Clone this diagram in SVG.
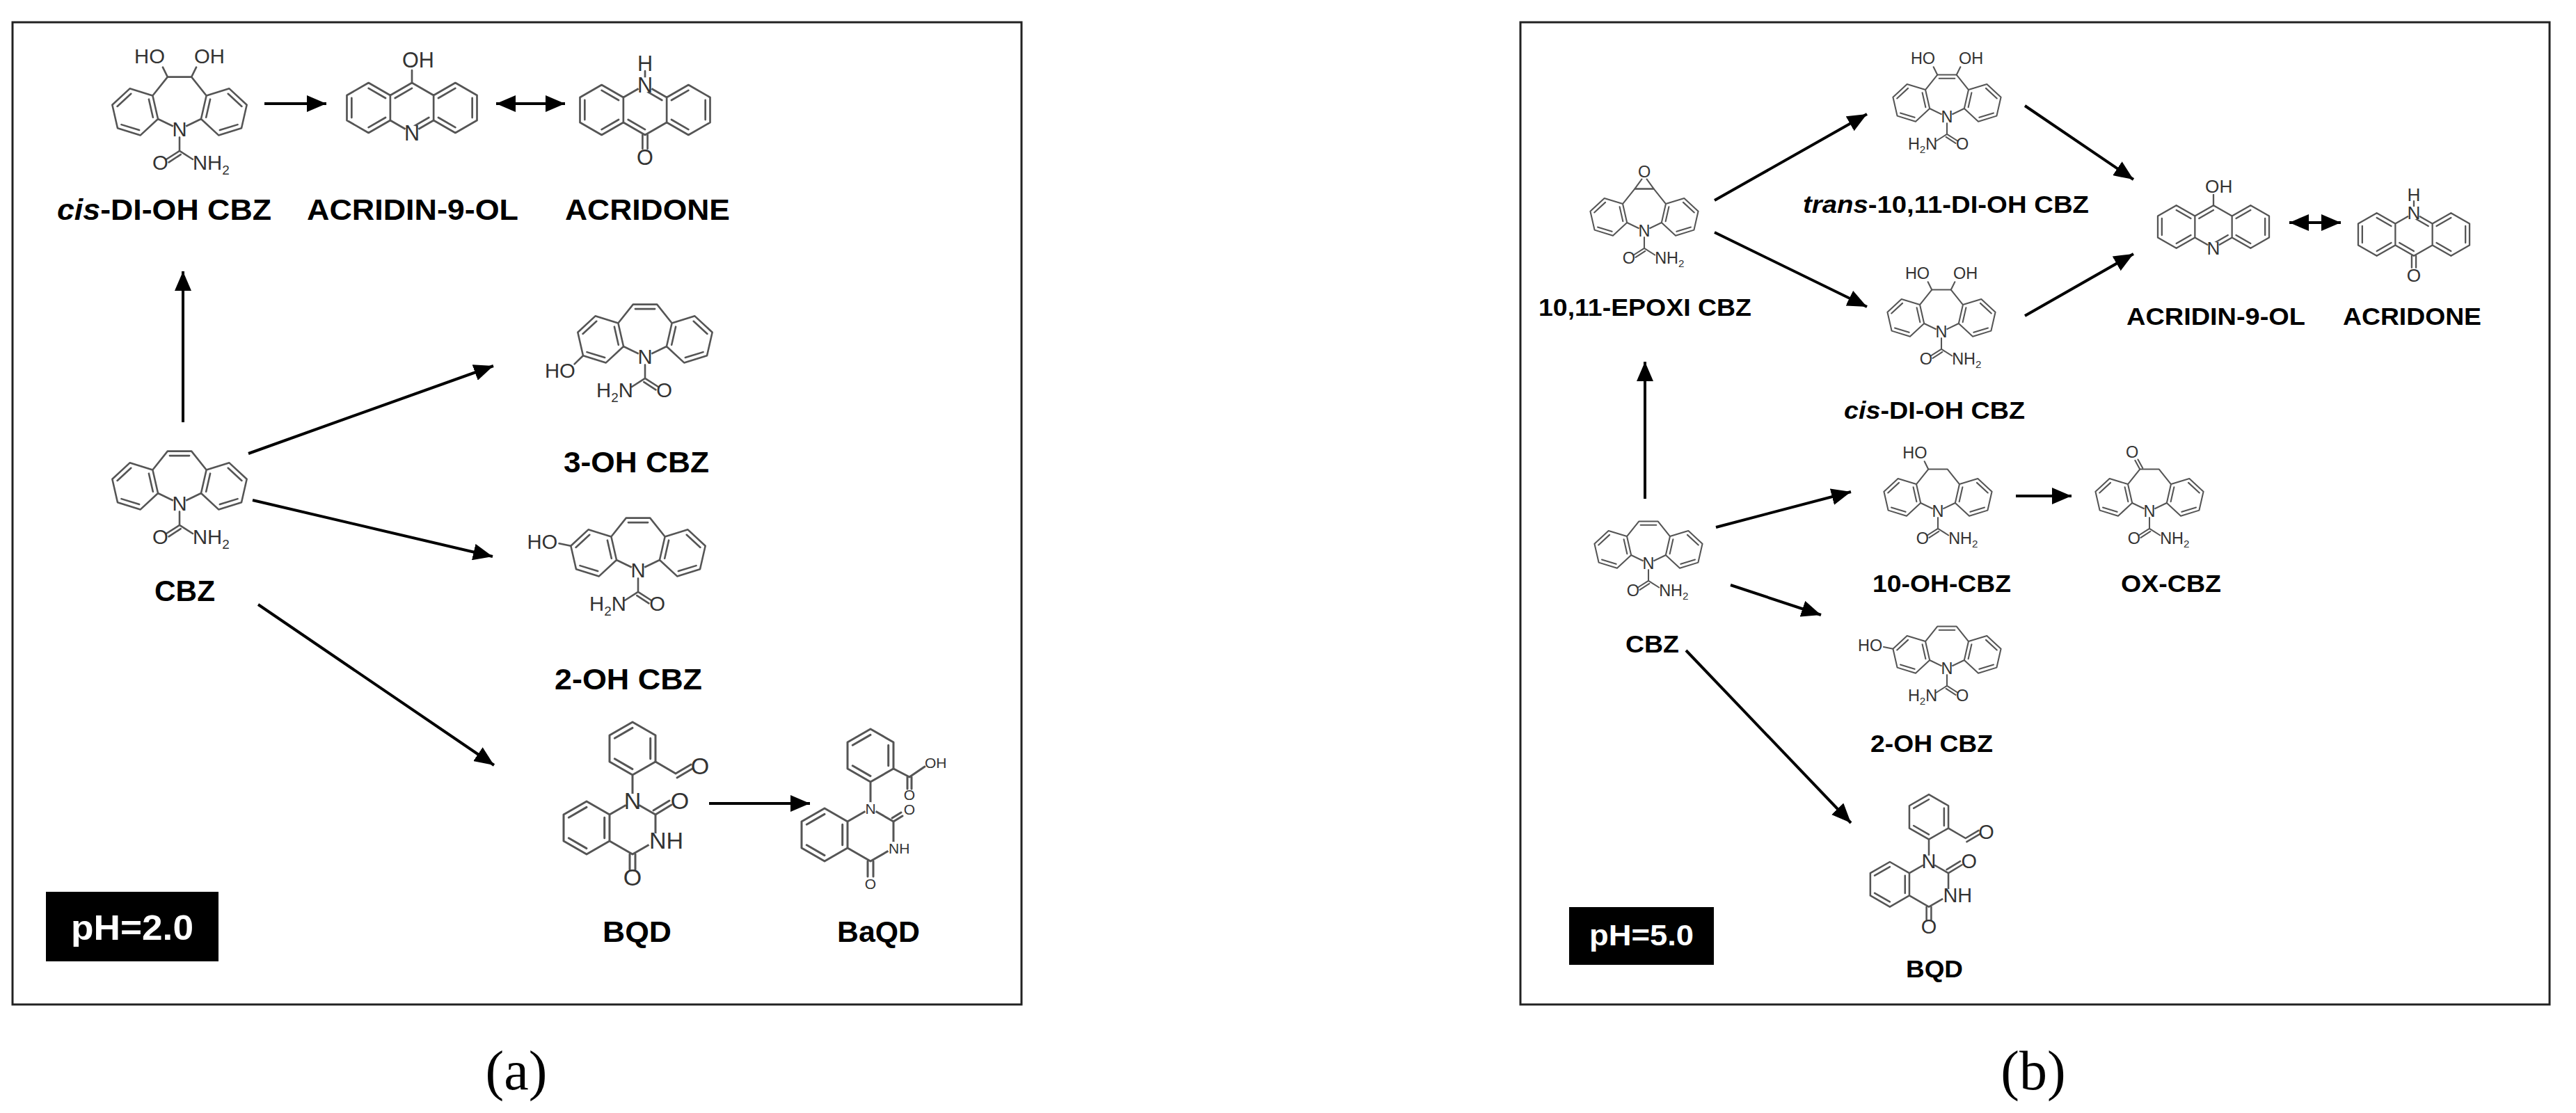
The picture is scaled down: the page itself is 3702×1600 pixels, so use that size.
<svg xmlns="http://www.w3.org/2000/svg" xmlns:xlink="http://www.w3.org/1999/xlink" width="3702" height="1600" viewBox="0 0 3702 1600">
<style>
.b{fill:none;stroke:#555;stroke-width:3;stroke-linecap:round;stroke-linejoin:round}
.t{font-family:"Liberation Sans",Arial,sans-serif;font-size:34px;fill:#333}
.ts{font-family:"Liberation Sans",Arial,sans-serif;font-size:21px;fill:#333}
.lab{font-family:"Liberation Sans",Arial,sans-serif;font-weight:bold;fill:#000}
.arr{stroke:#000;stroke-width:4;fill:none}
.frame{fill:none;stroke:#222;stroke-width:3}
.wc{fill:#fff;stroke:none}
</style>
<defs>
<marker id="ah" viewBox="0 0 7 6" refX="7" refY="3" markerWidth="7" markerHeight="6" orient="auto-start-reverse" markerUnits="strokeWidth"><path d="M0,0 L7,3 L0,6 Z" fill="#000"/></marker>
<g id="skel">
<path class="b" d="M0,0 L-36,-17.4 L-44.9,-56.4 L-20,-87.6 L20,-87.6 L44.9,-56.4 L36,-17.4 Z M-36,-17.4 L-65.3,9.8 L-103.5,-2 L-112.4,-41 L-83.1,-68.2 L-44.9,-56.4 M36,-17.4 L65.3,9.8 L103.5,-2 L112.4,-41 L83.1,-68.2 L44.9,-56.4 M-67.3,1.2 L-97.1,-8 M-104,-38.4 L-81.1,-59.6 M-51.3,-50.4 L-44.4,-20 M67.3,1.2 L97.1,-8 M104,-38.4 L81.1,-59.6 M51.3,-50.4 L44.4,-20"/>
<circle class="wc" cx="0" cy="0" r="12"/>
<text class="t" x="0" y="12" text-anchor="middle">N</text>
</g>
<path id="db" class="b" d="M-16.4,-80.1 L16.4,-80.1"/>
<g id="diol">
<path class="b" d="M-20,-87.6 L-28,-104 M20,-87.6 L28,-104"/>
<text class="t" x="-50" y="-110" text-anchor="middle">HO</text>
<text class="t" x="50" y="-110" text-anchor="middle">OH</text>
</g>
<g id="ureaA">
<path class="b" d="M0,13 L0,36 L-22,50 M2,42 L-18,55 M0,36 L22,50"/>
<text class="t" x="-32" y="68" text-anchor="middle">O</text>
<text class="t" x="22" y="68">NH<tspan font-size="22" dy="7">2</tspan></text>
</g>
<g id="ureaB">
<path class="b" d="M0,13 L0,36 L22,50 M-2,42 L18,55 M0,36 L-22,50"/>
<text class="t" x="32" y="68" text-anchor="middle">O</text>
<text class="t" x="-20" y="68" text-anchor="end">H<tspan font-size="22" dy="7">2</tspan><tspan dy="-7">N</tspan></text>
</g>
<path id="acr" class="b" d="M0,-40 L34.6,-20 L34.6,20 L0,40 L-34.6,20 L-34.6,-20 Z M34.6,-20 L69.3,-40 L103.9,-20 L103.9,20 L69.3,40 L34.6,20 M-34.6,-20 L-69.3,-40 L-103.9,-20 L-103.9,20 L-69.3,40 L-34.6,20 M96.3,-15.6 L96.3,15.6 M69.3,31.2 L42.2,15.6 M42.2,-15.6 L69.3,-31.2 M-96.3,-15.6 L-96.3,15.6 M-69.3,31.2 L-42.2,15.6 M-42.2,-15.6 L-69.3,-31.2 M0,-31.2 L-27,-15.6 M0,31.2 L27,15.6"/>
<g id="acridinol">
<use href="#acr"/>
<path class="b" d="M0,-40 L0,-60"/>
<circle class="wc" cx="0" cy="40" r="12"/>
<text class="t" x="0" y="52" text-anchor="middle">N</text>
<text class="t" x="10" y="-64" text-anchor="middle">OH</text>
</g>
<g id="acridone">
<use href="#acr" transform="scale(1,-1)"/>
<path class="b" d="M0,-52 L0,-62 M-4,40 L-4,62 M4,40 L4,62"/>
<circle class="wc" cx="0" cy="-40" r="12"/>
<text class="t" x="0" y="-28" text-anchor="middle">N</text>
<text class="t" x="0" y="-62" text-anchor="middle">H</text>
<text class="t" x="0" y="88" text-anchor="middle">O</text>
</g>
<path id="qcore" class="b" d="M0,0 L33,19 L33,57 L0,76 L-33,57 L-33,19 Z M-33,19 L-66,0 L-99,19 L-99,57 L-66,76 L-33,57 M-66,8.4 L-91.7,23.2 M-91.7,52.8 L-66,67.6 M-40.3,52.8 L-40.3,23.2 M0,0 L0,-38 M0,-38 L33,-57 L33,-95 L0,-114 L-33,-95 L-33,-57 Z M25.7,-61.2 L25.7,-90.8 M0,-105.6 L-25.7,-90.8 M-25.7,-61.2 L0,-46.4 M-4,76 L-4,98 M4,76 L4,98"/>
</defs>

<rect class="frame" x="18" y="32" width="1450" height="1412"/>
<rect class="frame" x="2185" y="32" width="1479" height="1412"/>

<g id="connectors">
<line class="arr" x1="263" y1="607" x2="263" y2="390" marker-end="url(#ah)"/>
<line class="arr" x1="380" y1="149" x2="469" y2="149" marker-end="url(#ah)"/>
<line class="arr" x1="713" y1="149" x2="812" y2="149" marker-start="url(#ah)" marker-end="url(#ah)"/>
<line class="arr" x1="357" y1="652" x2="709" y2="526" marker-end="url(#ah)"/>
<line class="arr" x1="363" y1="719" x2="708" y2="800" marker-end="url(#ah)"/>
<line class="arr" x1="371" y1="869" x2="710" y2="1100" marker-end="url(#ah)"/>
<line class="arr" x1="1019" y1="1155" x2="1164" y2="1155" marker-end="url(#ah)"/>
<line class="arr" x1="2364" y1="717" x2="2364" y2="520" marker-end="url(#ah)"/>
<line class="arr" x1="2464" y1="288" x2="2683" y2="164" marker-end="url(#ah)"/>
<line class="arr" x1="2464" y1="334" x2="2683" y2="441" marker-end="url(#ah)"/>
<line class="arr" x1="2910" y1="152" x2="3066" y2="258" marker-end="url(#ah)"/>
<line class="arr" x1="2910" y1="454" x2="3066" y2="365" marker-end="url(#ah)"/>
<line class="arr" x1="3290" y1="320" x2="3364" y2="320" marker-start="url(#ah)" marker-end="url(#ah)"/>
<line class="arr" x1="2466" y1="758" x2="2660" y2="707" marker-end="url(#ah)"/>
<line class="arr" x1="2897" y1="713" x2="2977" y2="713" marker-end="url(#ah)"/>
<line class="arr" x1="2487" y1="841" x2="2617" y2="884" marker-end="url(#ah)"/>
<line class="arr" x1="2423" y1="935" x2="2660" y2="1183" stroke-width="3" marker-end="url(#ah)"/>
</g>

<!-- panel a -->
<g id="a-cis">
<g transform="translate(258,186) scale(0.86)"><use href="#ureaA"/><use href="#skel"/><use href="#diol"/></g>
<text class="lab" x="82" y="316" font-size="42" textLength="308" lengthAdjust="spacingAndGlyphs"><tspan font-style="italic">cis</tspan>-DI-OH CBZ</text>
</g>
<g id="a-acridinol">
<use href="#acridinol" transform="translate(592,155) scale(0.9)"/>
<text class="lab" x="441" y="316" font-size="42" textLength="304" lengthAdjust="spacingAndGlyphs">ACRIDIN-9-OL</text>
</g>
<g id="a-acridone">
<use href="#acridone" transform="translate(927,158) scale(0.9)"/>
<text class="lab" x="812" y="316" font-size="42" textLength="237" lengthAdjust="spacingAndGlyphs">ACRIDONE</text>
</g>
<g id="a-cbz">
<g transform="translate(258,724) scale(0.86)"><use href="#ureaA"/><use href="#skel"/><use href="#db"/></g>
<text class="lab" x="222" y="864" font-size="42" textLength="87" lengthAdjust="spacingAndGlyphs">CBZ</text>
</g>
<g id="a-3oh">
<g transform="translate(927,513) scale(0.86)"><use href="#ureaB"/><use href="#skel"/><use href="#db"/>
<path class="b" d="M-103.5,-2 L-118,12"/><text class="t" x="-142" y="35" text-anchor="middle">HO</text></g>
<text class="lab" x="810" y="679" font-size="42" textLength="209" lengthAdjust="spacingAndGlyphs">3-OH CBZ</text>
</g>
<g id="a-2oh">
<g transform="translate(917,820) scale(0.86)"><use href="#ureaB"/><use href="#skel"/><use href="#db"/>
<path class="b" d="M-112.4,-41 L-132,-45"/><text class="t" x="-160" y="-36" text-anchor="middle">HO</text></g>
<text class="lab" x="797" y="991" font-size="42" textLength="212" lengthAdjust="spacingAndGlyphs">2-OH CBZ</text>
</g>
<g id="a-bqd">
<g transform="translate(909,1152)">
<use href="#qcore"/>
<path class="b" d="M33,19 L56,5 M30,13 L53,-1 M33,-57 L62,-40 L84,-53 M64,-34 L86,-47"/>
<circle class="wc" cx="0" cy="0" r="11"/><circle class="wc" cx="33" cy="57" r="11"/>
<text class="t" x="0" y="11" text-anchor="middle" font-size="30">N</text>
<text class="t" x="24" y="68" font-size="30">NH</text>
<text class="t" x="68" y="11" text-anchor="middle" font-size="30">O</text>
<text class="t" x="0" y="121" text-anchor="middle" font-size="30">O</text>
<text class="t" x="97" y="-39" text-anchor="middle" font-size="30">O</text>
</g>
<text class="lab" x="866" y="1354" font-size="42" textLength="99" lengthAdjust="spacingAndGlyphs">BQD</text>
</g>
<g id="a-baqd">
<g transform="translate(1251,1162)">
<use href="#qcore"/>
<path class="b" d="M33,19 L46,11 M31,14 L44,6 M33,-57 L56,-45 L78,-60 M53,-45 L53,-28 M59,-45 L59,-28"/>
<circle class="wc" cx="0" cy="0" r="9"/><circle class="wc" cx="33" cy="57" r="9"/>
<text class="ts" x="0" y="8" text-anchor="middle">N</text>
<text class="ts" x="26" y="65">NH</text>
<text class="ts" x="56" y="9" text-anchor="middle">O</text>
<text class="ts" x="56" y="-12" text-anchor="middle">O</text>
<text class="ts" x="0" y="116" text-anchor="middle">O</text>
<text class="ts" x="78" y="-58">OH</text>
</g>
<text class="lab" x="1203" y="1354" font-size="42" textLength="119" lengthAdjust="spacingAndGlyphs">BaQD</text>
</g>
<g id="a-ph">
<rect x="66" y="1282" width="248" height="100" fill="#000"/>
<text class="lab" x="102" y="1351" font-size="50" fill="#fff" style="fill:#fff" textLength="176" lengthAdjust="spacingAndGlyphs">pH=2.0</text>
</g>
<text x="742" y="1566" font-family="Liberation Serif, Times New Roman, serif" font-size="80" text-anchor="middle">(a)</text>

<!-- panel b -->
<g id="b-epoxi">
<g transform="translate(2363,332) scale(0.69)"><use href="#ureaA"/><use href="#skel"/>
<path class="b" d="M-20,-87.6 L-5,-108 M20,-87.6 L5,-108 M-20,-87.6 L20,-87.6"/><text class="t" x="0" y="-112" text-anchor="middle">O</text></g>
<text class="lab" x="2211" y="454" font-size="35" textLength="306" lengthAdjust="spacingAndGlyphs">10,11-EPOXI CBZ</text>
</g>
<g id="b-trans">
<g transform="translate(2798,168) scale(0.69)"><use href="#ureaB"/><use href="#skel"/><use href="#db"/><use href="#diol"/></g>
<text class="lab" x="2591" y="306" font-size="35" textLength="411" lengthAdjust="spacingAndGlyphs"><tspan font-style="italic">trans</tspan>-10,11-DI-OH CBZ</text>
</g>
<g id="b-cis">
<g transform="translate(2790,477) scale(0.69)"><use href="#ureaA"/><use href="#skel"/><use href="#diol"/></g>
<text class="lab" x="2650" y="602" font-size="35" textLength="260" lengthAdjust="spacingAndGlyphs"><tspan font-style="italic">cis</tspan>-DI-OH CBZ</text>
</g>
<g id="b-acridinol">
<use href="#acridinol" transform="translate(3181,326) scale(0.77)"/>
<text class="lab" x="3056" y="467" font-size="35" textLength="257" lengthAdjust="spacingAndGlyphs">ACRIDIN-9-OL</text>
</g>
<g id="b-acridone">
<use href="#acridone" transform="translate(3469,337) scale(0.77)"/>
<text class="lab" x="3367" y="467" font-size="35" textLength="199" lengthAdjust="spacingAndGlyphs">ACRIDONE</text>
</g>
<g id="b-cbz">
<g transform="translate(2369,810) scale(0.69)"><use href="#ureaA"/><use href="#skel"/><use href="#db"/></g>
<text class="lab" x="2336" y="938" font-size="35" textLength="77" lengthAdjust="spacingAndGlyphs">CBZ</text>
</g>
<g id="b-10oh">
<g transform="translate(2785,735) scale(0.69)"><use href="#ureaA"/><use href="#skel"/>
<path class="b" d="M-20,-87.6 L-28,-104"/><text class="t" x="-48" y="-110" text-anchor="middle">HO</text></g>
<text class="lab" x="2691" y="851" font-size="35" textLength="199" lengthAdjust="spacingAndGlyphs">10-OH-CBZ</text>
</g>
<g id="b-ox">
<g transform="translate(3089,735) scale(0.69)"><use href="#ureaA"/><use href="#skel"/>
<path class="b" d="M-20,-87.6 L-30,-106 M-14,-90 L-24,-108"/><text class="t" x="-36" y="-112" text-anchor="middle">O</text></g>
<text class="lab" x="3048" y="851" font-size="35" textLength="144" lengthAdjust="spacingAndGlyphs">OX-CBZ</text>
</g>
<g id="b-2oh">
<g transform="translate(2798,961) scale(0.69)"><use href="#ureaB"/><use href="#skel"/><use href="#db"/>
<path class="b" d="M-112.4,-41 L-132,-45"/><text class="t" x="-160" y="-36" text-anchor="middle">HO</text></g>
<text class="lab" x="2688" y="1081" font-size="35" textLength="176" lengthAdjust="spacingAndGlyphs">2-OH CBZ</text>
</g>
<g id="b-bqd">
<g transform="translate(2772,1239) scale(0.85)">
<use href="#qcore"/>
<path class="b" d="M33,19 L56,5 M30,13 L53,-1 M33,-57 L62,-40 L84,-53 M64,-34 L86,-47"/>
<circle class="wc" cx="0" cy="0" r="11"/><circle class="wc" cx="33" cy="57" r="11"/>
<text class="t" x="0" y="11" text-anchor="middle" font-size="30">N</text>
<text class="t" x="24" y="68" font-size="30">NH</text>
<text class="t" x="68" y="11" text-anchor="middle" font-size="30">O</text>
<text class="t" x="0" y="121" text-anchor="middle" font-size="30">O</text>
<text class="t" x="97" y="-39" text-anchor="middle" font-size="30">O</text>
</g>
<text class="lab" x="2739" y="1405" font-size="35" textLength="82" lengthAdjust="spacingAndGlyphs">BQD</text>
</g>
<g id="b-ph">
<rect x="2255" y="1304" width="208" height="83" fill="#000"/>
<text class="lab" x="2284" y="1359" font-size="42" style="fill:#fff" textLength="150" lengthAdjust="spacingAndGlyphs">pH=5.0</text>
</g>
<text x="2922" y="1566" font-family="Liberation Serif, Times New Roman, serif" font-size="80" text-anchor="middle">(b)</text>
</svg>
